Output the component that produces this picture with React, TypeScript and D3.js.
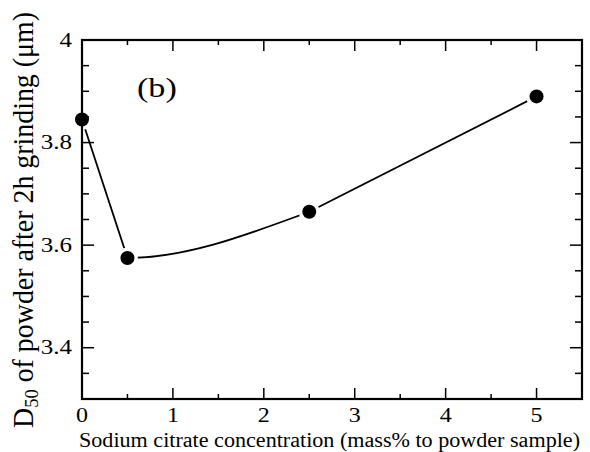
import React from "react";
import * as d3 from "d3";

const concentration = [0, 0.5, 2.5, 5];
const d50 = [3.845, 3.575, 3.665, 3.89];
const xTickLabels = [0, 1, 2, 3, 4, 5];
const yTickLabels = [3.4, 3.6, 3.8, 4];
const xTitle = "Sodium citrate concentration (mass% to powder sample)";
const panelLabel = "(b)";

const W = 590;
const H = 452;
const FONT = "Liberation Serif";

export default function App() {
  const x = d3.scaleLinear().domain([0, 5.5]).range([82, 582]);
  const y = d3.scaleLinear().domain([3.3, 4]).range([399, 40]);

  const pts: [number, number][] = concentration.map((c, i) => [x(c), y(d50[i])]);
  const leftPath = d3.line()(pts.slice(0, 2)) || "";
  const smoothPath = d3.line().curve(d3.curveMonotoneX)(pts) || "";
  const rightPath = d3.line()(pts.slice(2, 4)) || "";

  const xMinor = d3.range(0, 5.51, 0.5);
  const yMinor = d3.range(3.3, 4.001, 0.05);
  const isMajorX = (v: number) => Math.abs(v - Math.round(v)) < 1e-6;
  const isMajorY = (v: number) => yTickLabels.some((t) => Math.abs(t - v) < 1e-6);

  const x0 = x(0), x1 = x(5.5), yT = y(4), yB = y(3.3);

  return (
    <svg width={W} height={H} style={{ position: "absolute", left: 0, top: 0, background: "#fff" }}>
      <defs>
        <clipPath id="midPart">
          <rect x={x(0.5)} y={0} width={x(2.5) - x(0.5)} height={H} />
        </clipPath>
      </defs>
      <rect width={W} height={H} fill="#fff" />

      {/* curve */}
      <path d={leftPath} fill="none" stroke="#000" strokeWidth={1.8} />
      <path d={smoothPath} fill="none" stroke="#000" strokeWidth={1.8} clipPath="url(#midPart)" />
      <path d={rightPath} fill="none" stroke="#000" strokeWidth={1.8} />

      {/* halos */}
      {pts.map((p, i) => (
        <circle key={"h" + i} cx={p[0]} cy={p[1]} r={10.5} fill="#fff" />
      ))}

      {/* ticks */}
      {xMinor.map((v, i) => {
        const len = isMajorX(v) ? 11 : 5;
        const px = x(v);
        return (
          <g key={"xt" + i}>
            <line x1={px} x2={px} y1={yB} y2={yB - len} stroke="#000" strokeWidth={1.5} />
            <line x1={px} x2={px} y1={yT} y2={yT + len} stroke="#000" strokeWidth={1.5} />
          </g>
        );
      })}
      {yMinor.map((v, i) => {
        const len = isMajorY(v) ? 12 : 7;
        const py = y(v);
        return (
          <g key={"yt" + i}>
            <line x1={x0} x2={x0 + len} y1={py} y2={py} stroke="#000" strokeWidth={1.5} />
            <line x1={x1} x2={x1 - len} y1={py} y2={py} stroke="#000" strokeWidth={1.5} />
          </g>
        );
      })}

      {/* frame */}
      <rect x={x0} y={yT} width={x1 - x0} height={yB - yT} fill="none" stroke="#000" strokeWidth={2.2} />

      {/* markers */}
      {pts.map((p, i) => (
        <circle key={"m" + i} cx={p[0]} cy={p[1]} r={7} fill="#000" />
      ))}

      <g fontFamily={FONT} fill="#000">
        {/* x tick labels */}
        {xTickLabels.map((v) => (
          <text
            key={"xl" + v}
            transform={`translate(${x(v)},422) scale(1.2,1)`}
            textAnchor="middle"
            fontSize={20}
          >
            {v}
          </text>
        ))}

        {/* y tick labels */}
        {yTickLabels.map((v) => (
          <text
            key={"yl" + v}
            transform={`translate(72,${y(v) + 6.5}) scale(1.25,1)`}
            textAnchor="end"
            fontSize={20}
          >
            {v === 4 ? "4" : v.toFixed(1)}
          </text>
        ))}

        {/* panel label */}
        <text transform="translate(137,97) scale(1.22,1)" fontSize={28}>
          {panelLabel}
        </text>

        {/* x title */}
        <text x={79} y={447} fontSize={20} textLength={501} lengthAdjust="spacingAndGlyphs">
          {xTitle}
        </text>

        {/* y title */}
        <text
          transform="translate(33,428) rotate(-90) scale(1,1.2)"
          fontSize={24}
          textLength={416}
          lengthAdjust="spacingAndGlyphs"
        >
          D<tspan fontSize={16} dy={4}>50</tspan>
          <tspan dy={-4}> of powder after 2h grinding (μm)</tspan>
        </text>
      </g>
    </svg>
  );
}
